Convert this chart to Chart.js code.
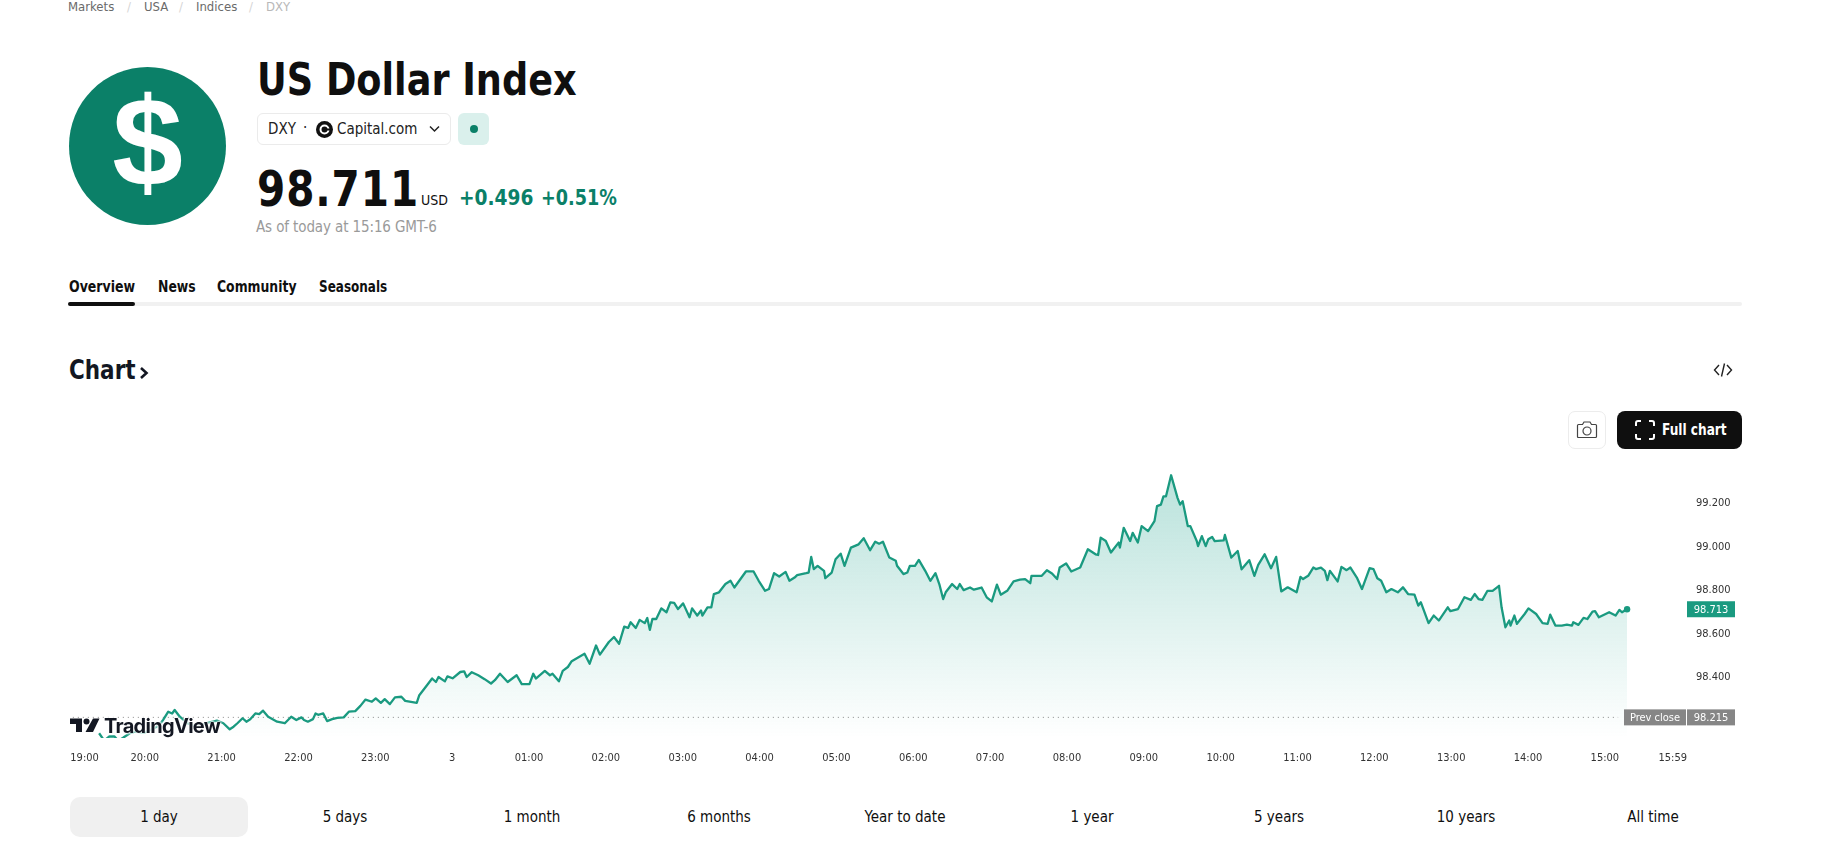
<!DOCTYPE html>
<html>
<head>
<meta charset="utf-8">
<title>US Dollar Index</title>
<script src="https://cdn.jsdelivr.net/npm/chart.js@4"></script>
<style>
    html, body { margin: 0; padding: 0; background: #fff; overflow: hidden; }
    body { width: 1827px; height: 847px; position: relative; font-family: "DejaVu Sans Condensed", "DejaVu Sans", sans-serif; color: #0f0f0f; }
    .abs { position: absolute; white-space: nowrap; line-height: 1; }
    .narrow { transform-origin: left center; transform: scaleX(0.92); }
    .crumb { top: 0; font-size: 13px; color: #6a6a6a; }
    .crumb.sep { color: #d6d6d6; }
    .tab { top: 280px; font-size: 15px; font-weight: bold; color: #0f0f0f; }
    .range { top: 810px; font-size: 15px; transform: translateX(-50%); color: #0f0f0f; }
    #priceChart { position: absolute; left: 39px; top: 440px; }
    #tvText { left: 104px; top: 716px; font-family: Inter, sans-serif; font-weight: 700; font-size: 20px; letter-spacing: -0.7px; color: #131722;
        text-shadow: 0 0 2px #fff, 0 0 2px #fff, 0 0 3px #fff, 0 0 3px #fff; }
</style>
</head>
<body>
<div class="abs crumb" style="left:68px">Markets</div>
<div class="abs crumb sep" style="left:127px">/</div>
<div class="abs crumb" style="left:144px">USA</div>
<div class="abs crumb sep" style="left:179px">/</div>
<div class="abs crumb" style="left:196px">Indices</div>
<div class="abs crumb sep" style="left:249px">/</div>
<div class="abs crumb" style="left:266px;color:#b8b8b8">DXY</div>

<div class="abs" style="left:69px;top:67px;width:157px;height:158px;border-radius:50%;background:#0b8068"></div>
<div class="abs" style="left:69px;top:79px;width:157px;text-align:center;font-family:'Liberation Sans';font-weight:bold;font-size:127px;color:#fff">$</div>

<div class="abs" style="left:257px;top:58px;font-size:44px;font-weight:bold;transform-origin:left center;transform:scaleX(0.926)">US Dollar Index</div>

<div class="abs" style="left:257px;top:113px;width:192px;height:30px;border:1px solid #ebebeb;border-radius:6px"></div>
<div class="abs" style="left:268px;top:122px;font-size:15px;color:#222">DXY</div>
<div class="abs" style="left:303px;top:121px;font-size:15px;color:#222">·</div>
<svg class="abs" style="left:316px;top:121px" width="17" height="17" viewBox="0 0 17 17">
    <circle cx="8.5" cy="8.5" r="8.5" fill="#111"/><circle cx="8.5" cy="8.5" r="4" fill="none" stroke="#fff" stroke-width="2"/><rect x="10" y="7.5" width="5" height="2" fill="#111"/>
</svg>
<div class="abs" style="left:337px;top:122px;font-size:15px;color:#222">Capital.com</div>
<svg class="abs" style="left:429px;top:125px" width="11" height="8" viewBox="0 0 11 8"><path d="M1 1.5 L5.5 6 L10 1.5" fill="none" stroke="#222" stroke-width="1.5"/></svg>
<div class="abs" style="left:458px;top:113px;width:31px;height:32px;border-radius:6px;background:#daf0ec"></div>
<div class="abs" style="left:470px;top:125px;width:8px;height:8px;border-radius:50%;background:#0b8068"></div>

<div class="abs narrow" style="left:257px;top:165px;font-size:49px;font-weight:bold;letter-spacing:1px">98.711</div>
<div class="abs" style="left:421px;top:193px;font-size:14px">USD</div>
<div class="abs" style="left:459px;top:187px;font-size:22px;font-weight:bold;color:#0b8068;transform-origin:left center;transform:scaleX(0.94)">+0.496</div>
<div class="abs" style="left:541px;top:187px;font-size:22px;font-weight:bold;color:#0b8068;transform-origin:left center;transform:scaleX(0.89)">+0.51%</div>
<div class="abs" style="left:256px;top:220px;font-size:15px;color:#9a9a9a;letter-spacing:-0.12px">As of today at 15:16 GMT-6</div>

<div class="abs tab narrow" style="left:69px;transform:scaleX(0.93)">Overview</div>
<div class="abs tab narrow" style="left:158px">News</div>
<div class="abs tab narrow" style="left:217px">Community</div>
<div class="abs tab narrow" style="left:319px;transform:scaleX(0.89)">Seasonals</div>
<div class="abs" style="left:68px;top:302px;width:1674px;height:4px;background:#f1f1f1;border-radius:2px"></div>
<div class="abs" style="left:68px;top:302px;width:67px;height:4px;background:#0f0f0f;border-radius:2px"></div>

<div class="abs narrow" style="left:69px;top:357px;font-size:26px;font-weight:bold;color:#131722">Chart</div>
<svg class="abs" style="left:139px;top:366px" width="10" height="14" viewBox="0 0 10 14"><path d="M2 2 L7.5 7 L2 12" fill="none" stroke="#131722" stroke-width="2.6"/></svg>

<svg class="abs" style="left:1713px;top:362px" width="20" height="16" viewBox="0 0 20 16"><path d="M6 3 L1.5 8 L6 13 M14 3 L18.5 8 L14 13 M11.5 1.5 L8.5 14.5" fill="none" stroke="#222" stroke-width="1.4"/></svg>

<div class="abs" style="left:1568px;top:411px;width:36px;height:36px;border:1px solid #ececec;border-radius:7px"></div>
<svg class="abs" style="left:1576px;top:421px" width="22" height="18" viewBox="0 0 22 18">
    <path d="M2.5 3.5 H6.5 L8 1 H14 L15.5 3.5 H19.5 Q20.5 3.5 20.5 4.5 V15.5 Q20.5 16.5 19.5 16.5 H2.5 Q1.5 16.5 1.5 15.5 V4.5 Q1.5 3.5 2.5 3.5 Z" fill="none" stroke="#444" stroke-width="1.2"/>
    <circle cx="11" cy="10" r="4" fill="none" stroke="#444" stroke-width="1.2"/>
</svg>
<div class="abs" style="left:1617px;top:411px;width:125px;height:38px;border-radius:8px;background:#0f0f0f"></div>
<svg class="abs" style="left:1635px;top:420px" width="20" height="20" viewBox="0 0 20 20"><path d="M1 6 V3 Q1 1 3 1 H6 M14 1 H17 Q19 1 19 3 V6 M19 14 V17 Q19 19 17 19 H14 M6 19 H3 Q1 19 1 17 V14" fill="none" stroke="#fff" stroke-width="2"/></svg>
<div class="abs" style="left:1662px;top:423px;font-size:15px;font-weight:bold;color:#fff;transform-origin:left center;transform:scaleX(0.9)">Full chart</div>

<canvas id="priceChart" width="1702" height="330" style="width:1702px;height:330px"></canvas>

<svg class="abs" style="left:70px;top:717px" width="30" height="16" viewBox="0 0 30 16">
    <path d="M0 1.5 H12 V15 H6 V7 H0 Z M23 1.5 H29.5 L23 15 H15.5 Z" fill="#131722"/><circle cx="16.5" cy="4.5" r="3" fill="#131722"/>
</svg>
<div class="abs" id="tvText">TradingView</div>

<div class="abs" style="left:70px;top:797px;width:178px;height:40px;border-radius:10px;background:#f0f0f0"></div>
<div class="abs range" style="left:159px">1 day</div>
<div class="abs range" style="left:345px">5 days</div>
<div class="abs range" style="left:532px">1 month</div>
<div class="abs range" style="left:719px">6 months</div>
<div class="abs range" style="left:905px">Year to date</div>
<div class="abs range" style="left:1092px">1 year</div>
<div class="abs range" style="left:1279px">5 years</div>
<div class="abs range" style="left:1466px">10 years</div>
<div class="abs range" style="left:1653px">All time</div>

<script>
// minutes after 19:00
const minutes = [
    22, 26, 30, 34, 37, 41, 46, 50, 57, 62, 67, 70, 72, 76, 79, 81, 85, 91, 98, 106, 114, 119, 124, 127, 130, 134, 137, 140, 144, 147,
    150, 154, 161, 167, 172, 176, 180, 182, 185, 189, 191, 193, 197, 200, 204, 208, 213, 217, 222, 226, 230, 235, 238, 242, 245, 249, 253, 258, 261, 270,
    272, 278, 282, 285, 287, 292, 294, 298, 304, 307, 309, 313, 318, 323, 328, 331, 335, 341, 348, 352, 358, 361, 363, 370, 374, 376, 381, 384, 388, 391,
    401, 405, 410, 413, 420, 424, 428, 432, 435, 437, 441, 444, 448, 450, 452, 454, 457, 461, 465, 468, 471, 474, 478, 483, 485, 489, 492, 493, 497, 500,
    502, 506, 511, 515, 518, 527, 533, 537, 542, 545, 549, 553, 558, 561, 565, 567, 574, 576, 578, 580, 583, 588, 589, 594, 597, 601, 604, 609, 615, 619,
    624, 628, 631, 634, 639, 644, 645, 650, 653, 655, 659, 662, 667, 671, 675, 678, 681, 683, 688, 692, 694, 697, 702, 705, 711, 715, 719, 723, 726, 731,
    736, 741, 745, 749, 750, 758, 762, 766, 770, 772, 777, 781, 788, 794, 800, 802, 804, 808, 812, 818, 819, 822, 827, 829, 833, 836, 841, 846, 848, 851,
    853, 855, 859, 864, 866, 868, 872, 874, 879, 880, 883, 886, 888, 891, 893, 900, 901, 906, 911, 914, 920, 924, 927, 932, 937, 941, 945, 950, 957, 960,
    962, 966, 970, 972, 976, 979, 981, 983, 989, 992, 996, 999, 1004, 1008, 1014, 1017, 1020, 1023, 1027, 1031, 1036, 1040, 1044, 1049, 1052, 1054, 1060, 1064, 1068, 1075,
    1077, 1083, 1088, 1093, 1096, 1099, 1102, 1106, 1110, 1115, 1117, 1120, 1123, 1124, 1127, 1129, 1135, 1138, 1144, 1149, 1153, 1155, 1159, 1164, 1168, 1172, 1173, 1177, 1181, 1184,
    1188, 1190, 1193, 1201, 1206, 1209, 1211, 1215
];
const prices = [
    98.142, 98.108, 98.127, 98.127, 98.107, 98.122, 98.142, 98.149, 98.145, 98.157, 98.172, 98.188, 98.203, 98.241, 98.233, 98.249, 98.218, 98.188, 98.172, 98.188, 98.200, 98.188, 98.160, 98.172, 98.188, 98.211, 98.195, 98.206, 98.233, 98.230,
    98.246, 98.218, 98.195, 98.188, 98.218, 98.203, 98.215, 98.203, 98.195, 98.207, 98.233, 98.227, 98.233, 98.198, 98.207, 98.213, 98.215, 98.241, 98.244, 98.268, 98.297, 98.287, 98.302, 98.282, 98.299, 98.276, 98.307, 98.310, 98.291, 98.282,
    98.317, 98.363, 98.394, 98.378, 98.401, 98.381, 98.404, 98.395, 98.424, 98.427, 98.401, 98.423, 98.409, 98.391, 98.371, 98.386, 98.416, 98.378, 98.409, 98.368, 98.368, 98.416, 98.394, 98.429, 98.409, 98.416, 98.381, 98.429, 98.447, 98.474,
    98.508, 98.462, 98.546, 98.504, 98.562, 98.585, 98.554, 98.633, 98.627, 98.653, 98.627, 98.664, 98.649, 98.673, 98.618, 98.668, 98.668, 98.717, 98.699, 98.745, 98.742, 98.714, 98.740, 98.676, 98.717, 98.684, 98.707, 98.684, 98.722, 98.722,
    98.783, 98.791, 98.829, 98.844, 98.813, 98.887, 98.887, 98.844, 98.798, 98.806, 98.879, 98.864, 98.885, 98.844, 98.859, 98.870, 98.879, 98.882, 98.954, 98.898, 98.913, 98.890, 98.856, 98.882, 98.943, 98.969, 98.913, 98.997, 99.012, 99.040,
    98.985, 99.024, 99.015, 99.024, 98.951, 98.936, 98.913, 98.875, 98.882, 98.913, 98.913, 98.940, 98.890, 98.844, 98.879, 98.829, 98.760, 98.791, 98.829, 98.806, 98.829, 98.801, 98.813, 98.803, 98.813, 98.768, 98.749, 98.826, 98.780, 98.798,
    98.841, 98.849, 98.852, 98.833, 98.867, 98.867, 98.893, 98.878, 98.852, 98.905, 98.924, 98.887, 98.905, 98.989, 98.966, 98.963, 99.043, 99.027, 98.974, 99.020, 98.997, 99.088, 99.027, 99.065, 99.020, 99.096, 99.073, 99.119, 99.188, 99.195,
    99.233, 99.233, 99.330, 99.226, 99.195, 99.211, 99.096, 99.096, 99.027, 99.004, 99.050, 99.004, 99.035, 99.046, 99.027, 99.030, 99.055, 98.951, 98.981, 98.897, 98.939, 98.867, 98.917, 98.966, 98.902, 98.954, 98.795, 98.814, 98.791, 98.862,
    98.852, 98.867, 98.905, 98.898, 98.905, 98.890, 98.847, 98.890, 98.841, 98.908, 98.893, 98.905, 98.859, 98.806, 98.902, 98.898, 98.856, 98.844, 98.791, 98.806, 98.791, 98.814, 98.783, 98.780, 98.730, 98.745, 98.649, 98.684, 98.661, 98.722,
    98.704, 98.714, 98.768, 98.756, 98.783, 98.760, 98.756, 98.798, 98.798, 98.821, 98.722, 98.630, 98.661, 98.638, 98.684, 98.646, 98.691, 98.717, 98.691, 98.649, 98.646, 98.688, 98.638, 98.638, 98.642, 98.638, 98.653, 98.641, 98.673, 98.668,
    98.702, 98.704, 98.676, 98.699, 98.684, 98.710, 98.699, 98.713
];
const tickMinutes = [13, 60, 120, 180, 240, 300, 360, 420, 480, 540, 600, 660, 720, 780, 840, 900, 960, 1020, 1080, 1140, 1200, 1253];
const tickLabels = ['19:00', '20:00', '21:00', '22:00', '23:00', '3', '01:00', '02:00', '03:00', '04:00', '05:00', '06:00', '07:00', '08:00', '09:00', '10:00', '11:00', '12:00', '13:00', '14:00', '15:00', '15:59'];
const priceTicks = [98.4, 98.6, 98.8, 99.0, 99.2];
const prevClose = 98.215;

const TEAL = '#1a9a80';
const FONT = '"DejaVu Sans Condensed", "DejaVu Sans", sans-serif';

// price badges on the right hand scale
const badges = {
    id: 'badges',
    afterDraw(chart) {
        const { ctx, chartArea } = chart;
        const y = chart.scales.y;
        const left = chartArea.right + 1;
        const box = (x, w, value, color, text) => {
            const py = y.getPixelForValue(value);
            ctx.fillStyle = color;
            ctx.fillRect(x, py - 8, w, 16);
            ctx.fillStyle = '#fff';
            ctx.font = '11px ' + FONT;
            ctx.textAlign = 'center';
            ctx.textBaseline = 'middle';
            ctx.fillText(text, x + w / 2, py + 0.5);
        };
        ctx.save();
        box(left, 48, prices[prices.length - 1], TEAL, prices[prices.length - 1].toFixed(3));
        box(left, 48, prevClose, '#868686', prevClose.toFixed(3));
        box(left - 63, 62, prevClose, '#868686', 'Prev close');
        ctx.restore();
    }
};

new Chart(document.getElementById('priceChart'), {
    type: 'line',
    plugins: [badges],
    data: {
        datasets: [{
            data: minutes.map((m, i) => ({ x: m, y: prices[i] })),
            borderColor: TEAL,
            borderWidth: 2.3,
            borderJoinStyle: 'round',
            tension: 0,
            fill: 'start',
            backgroundColor(c) {
                const area = c.chart.chartArea;
                if (!area) return 'transparent';
                const g = c.chart.ctx.createLinearGradient(0, area.top, 0, area.bottom);
                g.addColorStop(0, 'rgba(8, 153, 129, 0.30)');
                g.addColorStop(1, 'rgba(8, 153, 129, 0)');
                return g;
            },
            pointRadius: c => (c.dataIndex === minutes.length - 1 ? 3.2 : 0),
            pointBackgroundColor: TEAL,
            pointBorderWidth: 0
        }, {
            data: [{ x: 1.5, y: prevClose }, { x: 1208, y: prevClose }],
            borderColor: '#8a8a8a',
            borderWidth: 1,
            borderDash: [1, 4],
            pointRadius: 0,
            fill: false
        }]
    },
    options: {
        responsive: false,
        devicePixelRatio: 1,
        animation: false,
        layout: { padding: 0 },
        plugins: { legend: { display: false }, tooltip: { enabled: false } },
        scales: {
            x: {
                type: 'linear',
                min: -21.8,
                max: 1261,
                grid: { display: false, drawTicks: false },
                border: { display: false },
                afterBuildTicks(scale) { scale.ticks = tickMinutes.map(value => ({ value })); },
                afterFit(scale) { scale.height = 32; },
                ticks: {
                    autoSkip: false,
                    maxRotation: 0,
                    padding: 14,
                    labelOffset: -3,
                    color: '#333',
                    font: { family: FONT, size: 11 },
                    callback: (v, i) => tickLabels[i]
                }
            },
            y: {
                position: 'right',
                min: 98.12,
                max: 99.416,
                grid: { display: false, drawTicks: false },
                border: { display: false },
                afterBuildTicks(scale) { scale.ticks = priceTicks.map(value => ({ value })); },
                afterFit(scale) { scale.width = 55; },
                ticks: {
                    padding: 10,
                    color: '#333',
                    font: { family: FONT, size: 11 },
                    callback: v => v.toFixed(3)
                }
            }
        }
    }
});
</script>
</body>
</html>
